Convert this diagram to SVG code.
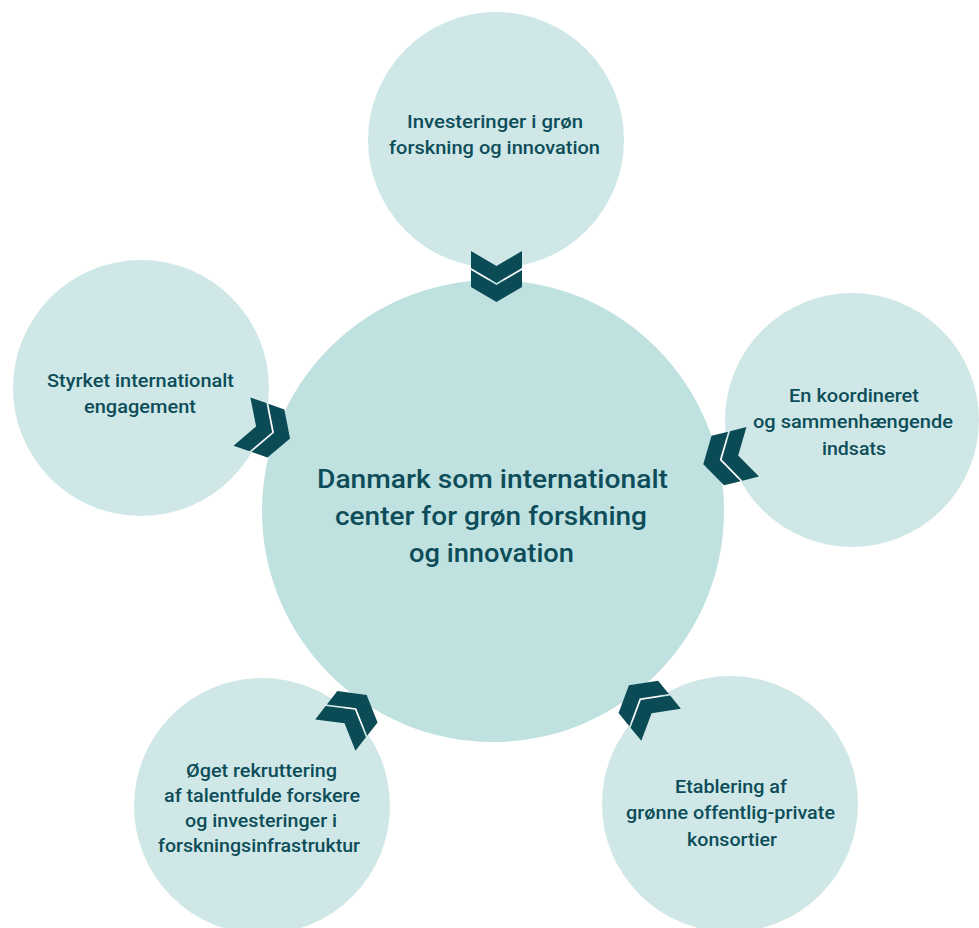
<svg xmlns="http://www.w3.org/2000/svg" width="979" height="928" viewBox="0 0 979 928">
  <defs>
    <style>
      .outer { fill: #cfe8e7; }
      .hub { fill: #bfe1e0; }
      .lbl { font-family: Roboto, "Liberation Sans", sans-serif; font-weight: 500; font-size: 19px; fill: #0d4d59; text-anchor: middle; }
      .title { font-family: Roboto, "Liberation Sans", sans-serif; font-weight: 500; font-size: 25px; fill: #0d4d59; text-anchor: middle; }
      .chev { fill: #0b4b56; }
    </style>
    <g id="dblchev">
      <polygon class="chev" points="-25.5,-25.5 0,-10.5 25.5,-25.5 25.5,-8.5 0,6.5 -25.5,-8.5"/>
      <polygon class="chev" points="-25.5,-6.5 0,8.5 25.5,-6.5 25.5,10.5 0,25.5 -25.5,10.5"/>
    </g>
  </defs>
  <rect width="979" height="928" fill="#ffffff"/>

  <g id="node-top">
    <circle class="outer" cx="496" cy="140" r="128"/>
    <text class="lbl" x="495" y="128" textLength="176" lengthAdjust="spacingAndGlyphs">Investeringer i grøn</text>
    <text class="lbl" x="494.5" y="154" textLength="211" lengthAdjust="spacingAndGlyphs">forskning og innovation</text>
  </g>

  <g id="node-left">
    <circle class="outer" cx="141" cy="388" r="128"/>
    <text class="lbl" x="140.5" y="387" textLength="187" lengthAdjust="spacingAndGlyphs">Styrket internationalt</text>
    <text class="lbl" x="140" y="413" textLength="112" lengthAdjust="spacingAndGlyphs">engagement</text>
  </g>

  <g id="node-right">
    <circle class="outer" cx="852" cy="420" r="127"/>
    <text class="lbl" x="854" y="402" textLength="130" lengthAdjust="spacingAndGlyphs">En koordineret</text>
    <text class="lbl" x="853" y="428" textLength="200" lengthAdjust="spacingAndGlyphs">og sammenhængende</text>
    <text class="lbl" x="854" y="455" textLength="64" lengthAdjust="spacingAndGlyphs">indsats</text>
  </g>

  <g id="node-bottom-left">
    <circle class="outer" cx="262" cy="806" r="128"/>
    <text class="lbl" x="261.5" y="777" textLength="151" lengthAdjust="spacingAndGlyphs">Øget rekruttering</text>
    <text class="lbl" x="262" y="802" textLength="196" lengthAdjust="spacingAndGlyphs">af talentfulde forskere</text>
    <text class="lbl" x="261" y="827" textLength="152" lengthAdjust="spacingAndGlyphs">og investeringer i</text>
    <text class="lbl" x="259" y="852" textLength="202" lengthAdjust="spacingAndGlyphs">forskningsinfrastruktur</text>
  </g>

  <g id="node-bottom-right">
    <circle class="outer" cx="730" cy="804" r="128"/>
    <text class="lbl" x="731" y="793" textLength="112" lengthAdjust="spacingAndGlyphs">Etablering af</text>
    <text class="lbl" x="730.5" y="819" textLength="209" lengthAdjust="spacingAndGlyphs">grønne offentlig-private</text>
    <text class="lbl" x="732" y="846" textLength="90" lengthAdjust="spacingAndGlyphs">konsortier</text>
  </g>

  <g id="node-center">
    <circle class="hub" cx="493" cy="511" r="231"/>
    <text class="title" x="492.5" y="488" textLength="351" lengthAdjust="spacingAndGlyphs">Danmark som internationalt</text>
    <text class="title" x="491" y="525" textLength="312" lengthAdjust="spacingAndGlyphs">center for grøn forskning</text>
    <text class="title" x="491.5" y="562" textLength="165" lengthAdjust="spacingAndGlyphs">og innovation</text>
  </g>

  <g id="connectors">
    <use href="#dblchev" transform="translate(496.5,276.5)"/>
    <use href="#dblchev" transform="translate(266,430) rotate(-70.7)"/>
    <use href="#dblchev" transform="translate(728,458) rotate(75.8)"/>
    <use href="#dblchev" transform="translate(351,715) rotate(-142.1)"/>
    <use href="#dblchev" transform="translate(645,705) rotate(140.9)"/>
  </g>
</svg>
